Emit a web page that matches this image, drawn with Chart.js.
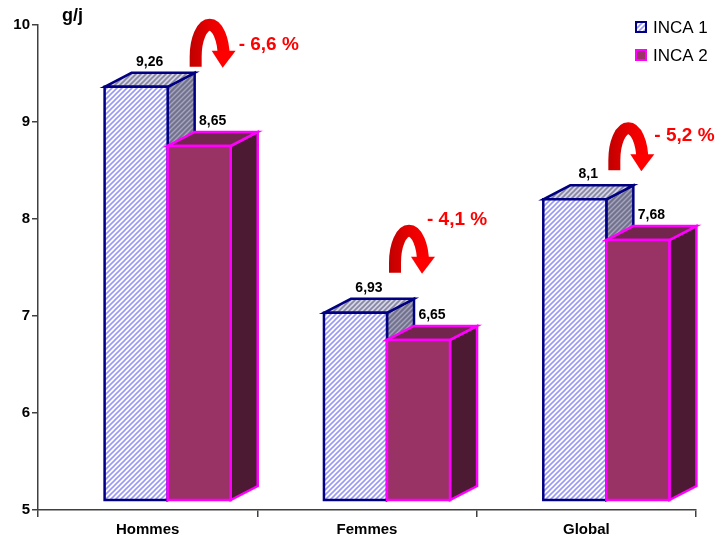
<!DOCTYPE html>
<html>
<head>
<meta charset="utf-8">
<script src="https://cdn.jsdelivr.net/npm/chart.js@4/dist/chart.umd.min.js"></script>
<style>
html,body{margin:0;padding:0;background:#fff;}
#wrap{width:721px;height:542px;position:relative;}
</style>
</head>
<body>
<div id="wrap"><canvas id="c" width="721" height="542"></canvas></div>
<script>
// ---- data ----
const categories = ['Hommes', 'Femmes', 'Global'];
const seriesNames = ['INCA 1', 'INCA 2'];
const inca1 = [9.26, 6.93, 8.1];
const inca2 = [8.65, 6.65, 7.68];
const changes = ['- 6,6 %', '- 4,1 %', '- 5,2 %'];
const yTicks = [5, 6, 7, 8, 9, 10];
const yUnit = 'g/j';

// ---- style ----
const FONT = '"Liberation Sans", Arial, sans-serif';
const DX = 27, DY = 14, FLOOR = 10, SHIFT = 20;

function stripe(bg, fg, s, lw) {
  const c = document.createElement('canvas');
  c.width = s; c.height = s;
  const g = c.getContext('2d');
  g.fillStyle = bg; g.fillRect(0, 0, s, s);
  g.strokeStyle = fg; g.lineWidth = lw;
  g.beginPath();
  g.moveTo(-1, s + 1); g.lineTo(s + 1, -1);
  g.moveTo(-1, 1); g.lineTo(1, -1);
  g.moveTo(s - 1, s + 1); g.lineTo(s + 1, s - 1);
  g.stroke();
  return g.createPattern(c, 'repeat');
}
const styles = [
  {front: stripe('#ffffff', '#9a9af5', 5, 1.6), top: stripe('#d4d4e2', '#8484a4', 5, 1.6),
   side: stripe('#72728c', '#a6a6c0', 5, 1.4), border: '#000080'},
  {front: '#993366', top: '#73264d', side: '#4d1a33', border: '#ff00ff'}
];

// annotation layout (pixel offsets from category centre / INCA 1 bar top)
const arrowLayout = [
  {dx: 48, dy: -30, tx: 43, ty: -22},
  {dx: 28, dy: -50, tx: 32, ty: -53},
  {dx: 28, dy: -39, tx: 40, ty: -35}
];

function drawArrow(ctx, xl, yb) {
  const rx = 14, ry = 32;
  const cx = xl + rx, cy = yb - 10;
  const grad = ctx.createLinearGradient(xl - 6, 0, xl + 2 * rx + 6, 0);
  grad.addColorStop(0, '#c00000');
  grad.addColorStop(0.5, '#e80000');
  grad.addColorStop(1, '#ff0000');
  ctx.save();
  ctx.strokeStyle = grad;
  ctx.lineWidth = 12;
  ctx.lineCap = 'butt';
  ctx.beginPath();
  ctx.moveTo(xl, yb);
  ctx.lineTo(xl, cy);
  ctx.ellipse(cx, cy, rx, ry, 0, Math.PI, 2 * Math.PI);
  ctx.stroke();
  ctx.fillStyle = '#ff0000';
  ctx.beginPath();
  ctx.moveTo(xl + 2 * rx - 12, cy - 6);
  ctx.lineTo(xl + 2 * rx + 12, cy - 6);
  ctx.lineTo(xl + 2 * rx - 1, yb + 1);
  ctx.closePath();
  ctx.fill();
  ctx.restore();
}

function drawBox(ctx, l, r, t, b, st) {
  ctx.save();
  ctx.lineWidth = 2.5;
  ctx.lineJoin = 'miter';
  ctx.strokeStyle = st.border;
  ctx.beginPath();
  ctx.moveTo(r, t); ctx.lineTo(r + DX, t - DY); ctx.lineTo(r + DX, b - DY); ctx.lineTo(r, b); ctx.closePath();
  ctx.fillStyle = st.side; ctx.fill(); ctx.stroke();
  ctx.beginPath();
  ctx.moveTo(l, t); ctx.lineTo(l + DX, t - DY); ctx.lineTo(r + DX, t - DY); ctx.lineTo(r, t); ctx.closePath();
  ctx.fillStyle = st.top; ctx.fill(); ctx.stroke();
  ctx.beginPath();
  ctx.rect(l, t, r - l, b - t);
  ctx.fillStyle = st.front; ctx.fill(); ctx.stroke();
  ctx.restore();
}

const box3d = {
  id: 'box3d',
  afterDatasetsDraw(chart) {
    const ctx = chart.ctx;
    const ys = chart.scales.y, xs = chart.scales.x;
    const metas = [chart.getDatasetMeta(0), chart.getDatasetMeta(1)];
    const basePx = ys.getPixelForValue(ys.min);
    const labelPos = [];
    categories.forEach((cat, i) => {
      metas.forEach((m, d) => {
        const el = m.data[i];
        const p = el.getProps(['x', 'y', 'width'], true);
        const l = p.x - p.width / 2 + SHIFT, r = p.x + p.width / 2 + SHIFT;
        const t = p.y - FLOOR, b = basePx - FLOOR;
        drawBox(ctx, l, r, t, b, styles[d]);
        const v = chart.data.datasets[d].data[i];
        labelPos.push({x: (l + r) / 2 + DX / 2, y: t - DY - 11, txt: String(v).replace('.', ',')});
      });
    });
    ctx.save();
    ctx.fillStyle = '#000';
    ctx.font = 'bold 14px ' + FONT;
    ctx.textAlign = 'center'; ctx.textBaseline = 'middle';
    labelPos.forEach(lp => ctx.fillText(lp.txt, lp.x, lp.y));
    ctx.restore();
    categories.forEach((cat, i) => {
      const L = arrowLayout[i];
      const xl = xs.getPixelForValue(i) + L.dx;
      const yb = ys.getPixelForValue(inca1[i]) + L.dy;
      drawArrow(ctx, xl, yb);
      ctx.save();
      ctx.fillStyle = '#ff0000';
      ctx.font = 'bold 19px ' + FONT;
      ctx.textAlign = 'left'; ctx.textBaseline = 'middle';
      ctx.fillText(changes[i], xl + L.tx, yb + L.ty);
      ctx.restore();
    });
    ctx.save();
    ctx.fillStyle = '#000';
    ctx.font = 'bold 18px ' + FONT;
    ctx.textAlign = 'left'; ctx.textBaseline = 'middle';
    ctx.fillText(yUnit, 62, 16);
    const lx = 636;
    [27, 55].forEach((cy, d) => {
      ctx.fillStyle = styles[d].front;
      ctx.fillRect(lx, cy - 5, 10, 10);
      ctx.lineWidth = 2;
      ctx.strokeStyle = styles[d].border;
      ctx.strokeRect(lx, cy - 5, 10, 10);
      ctx.fillStyle = '#000';
      ctx.font = '17px ' + FONT;
      ctx.fillText(seriesNames[d], lx + 17, cy + 1);
    });
    ctx.restore();
  }
};

new Chart(document.getElementById('c'), {
  type: 'bar',
  data: {
    labels: categories,
    datasets: [
      {label: seriesNames[0], data: inca1, backgroundColor: 'rgba(0,0,0,0)', borderWidth: 0},
      {label: seriesNames[1], data: inca2, backgroundColor: 'rgba(0,0,0,0)', borderWidth: 0}
    ]
  },
  options: {
    responsive: false,
    animation: false,
    categoryPercentage: 0.575,
    barPercentage: 1,
    layout: {padding: {top: 25, right: 25, left: 0, bottom: 0}},
    plugins: {legend: {display: false}, tooltip: {enabled: false}},
    scales: {
      x: {
        offset: true,
        afterFit: s => { s.height = 32; },
        grid: {display: true, drawOnChartArea: false, offset: true, tickLength: 7, color: '#404040', lineWidth: 1.5},
        border: {display: true, color: '#404040', width: 1.5},
        ticks: {color: '#000', font: {family: FONT, weight: 'bold', size: 15}, padding: 4}
      },
      y: {
        min: 5, max: 10,
        afterFit: s => { s.width = 38; },
        afterBuildTicks: s => { s.ticks = yTicks.map(v => ({value: v})); },
        grid: {display: true, drawOnChartArea: false, tickLength: 6, color: '#404040', lineWidth: 1.5},
        border: {display: true, color: '#404040', width: 1.5},
        ticks: {color: '#000', font: {family: FONT, weight: 'bold', size: 15}, padding: 2}
      }
    }
  },
  plugins: [box3d]
});
</script>
</body>
</html>
